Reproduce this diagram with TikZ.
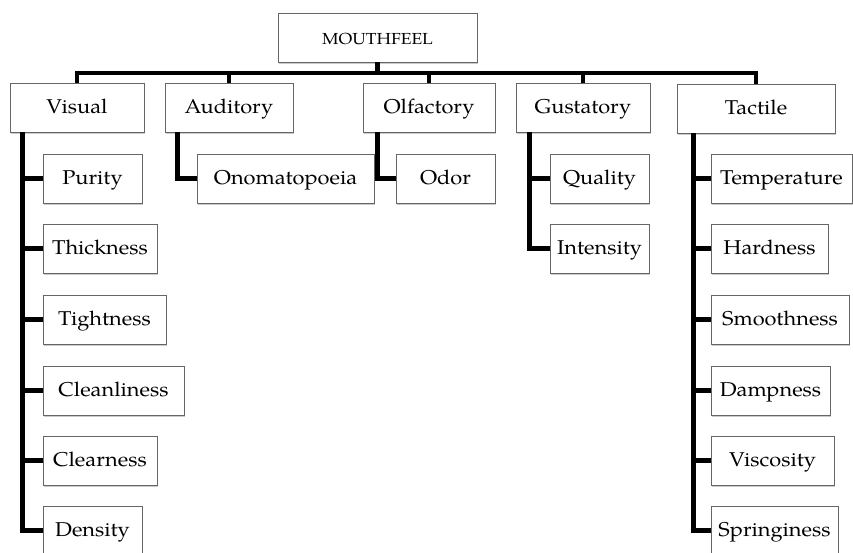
\documentclass[tikz,border=0pt]{standalone}
\usepackage{fontspec}
\setmainfont[FakeStretch=1.09]{TeX Gyre Pagella}
\usetikzlibrary{shadows}
\begin{document}
\begin{tikzpicture}[x=1pt,y=-1pt,
  box/.style={draw=black!60, line width=0.8pt, fill=white, inner sep=0pt,
    minimum height=49pt, font=\fontsize{20}{24}\selectfont,
    text height=16pt, text depth=4pt,
    drop shadow={shadow xshift=1.2pt, shadow yshift=-1.8pt, fill=black!35, opacity=0.6}},
  conn/.style={line width=4.5pt, black, line join=miter}]
\useasboundingbox (0,0) rectangle (853,552);
% level 0
\node[box, minimum width=199pt, minimum height=49pt, font=\fontsize{16}{20}\selectfont,
  text height=15pt, text depth=1.4pt] (mouth) at (377.5,37.5) {MOUTHFEEL};
% level 1
\node[box, minimum width=134pt] (vis) at (77,107.5) {Visual};
\node[box, minimum width=128pt] (aud) at (229,107.5) {Auditory};
\node[box, minimum width=132pt] (olf) at (429,107.5) {Olfactory};
\node[box, minimum width=134pt] (gus) at (583,107.5) {Gustatory};
\node[box, minimum width=158pt] (tac) at (756,108.5) {Tactile};
% visual children
\node[box, minimum width=99pt] (pur) at (92.5,178.5) {Purity};
\node[box, minimum width=114pt] (thi) at (100,248.5) {Thickness};
\node[box, minimum width=123pt] (tig) at (104.5,319.5) {Tightness};
\node[box, minimum width=141pt] (cln) at (113.5,390.5) {Cleanliness};
\node[box, minimum width=114pt] (clr) at (100,460.5) {Clearness};
\node[box, minimum width=99pt] (den) at (92.5,530.5) {Density};
% auditory / olfactory children
\node[box, minimum width=177pt] (ono) at (285.5,178.5) {Onomatopoeia};
\node[box, minimum width=99pt] (odo) at (445.5,178.5) {Odor};
% gustatory children
\node[box, minimum width=99pt] (qua) at (599.5,178.5) {Quality};
\node[box, minimum width=99pt] (int) at (599.5,248.5) {Intensity};
% tactile children
\node[box, minimum width=141pt] (tem) at (781.5,178.5) {Temperature};
\node[box, minimum width=117pt] (har) at (769.5,248.5) {Hardness};
\node[box, minimum width=138pt] (smo) at (780,319.5) {Smoothness};
\node[box, minimum width=119pt] (dam) at (770.5,390.5) {Dampness};
\node[box, minimum width=123pt] (vsc) at (772.5,460.5) {Viscosity};
\node[box, minimum width=127pt] (spr) at (774.5,530.5) {Springiness};
% bus
\coordinate (bus) at (377.5,73);
\draw[conn] (vis.north) |- (bus) -| (tac.north);
\draw[conn] (mouth.south) -- (bus);
\draw[conn] (aud.north) -- (aud.north |- bus);
\draw[conn] (olf.north) -- (olf.north |- bus);
\draw[conn] (gus.north) -- (gus.north |- bus);
% visual
\foreach \c in {pur,thi,tig,cln,clr,den}
  \draw[conn] ([xshift=13pt]vis.south west) |- (\c.west);
% auditory, olfactory
\draw[conn] ([xshift=13pt]aud.south west) |- (ono.west);
\draw[conn] ([xshift=15pt]olf.south west) |- (odo.west);
% gustatory
\foreach \c in {qua,int}
  \draw[conn] ([xshift=14pt]gus.south west) |- (\c.west);
% tactile
\foreach \c in {tem,har,smo,dam,vsc,spr}
  \draw[conn] ([xshift=17pt]tac.south west) |- (\c.west);
\end{tikzpicture}
\end{document}
